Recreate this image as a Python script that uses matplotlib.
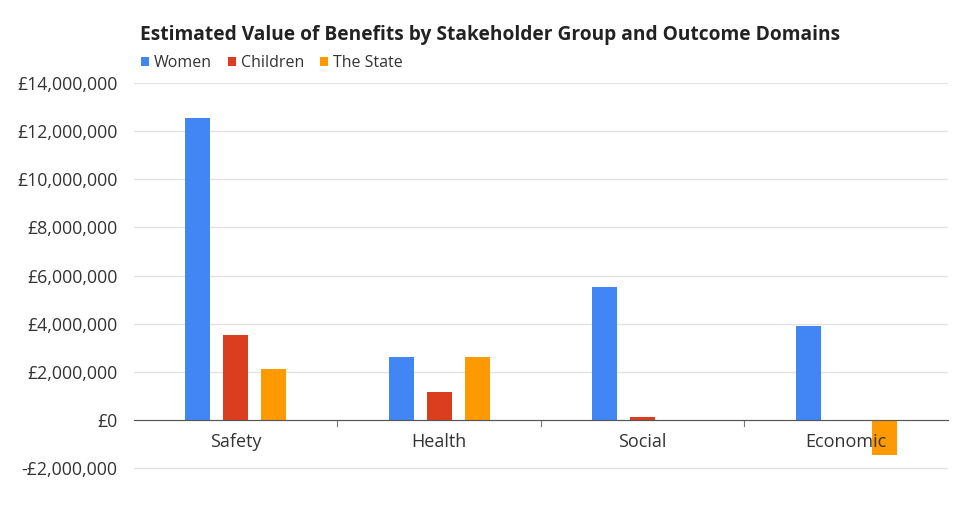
import matplotlib
matplotlib.use("Agg")
import matplotlib.pyplot as plt
import numpy as np
from matplotlib.ticker import FuncFormatter

categories = ["Safety", "Health", "Social", "Economic"]
series_names = ["Women", "Children", "The State"]
women = [12550000, 2620000, 5530000, 3900000]
children = [3530000, 1160000, 120000, 0]
the_state = [2120000, 2620000, 0, -1450000]
colors = ["#4285f4", "#db3e1e", "#ff9900"]

plt.rcParams['font.family'] = ['Open Sans', 'DejaVu Sans']

fig = plt.figure(figsize=(9.57, 5.16), dpi=100)
ax = fig.add_axes([0.140, 0.0647, 0.8506, 0.7744])

x = np.arange(len(categories))
offs = [-0.186, 0.0, 0.186]
w = 0.123
for vals, name, c, o in zip([women, children, the_state], series_names, colors, offs):
    ax.bar(x + o, vals, width=w, color=c, label=name, zorder=2)

ax.set_xlim(-0.5, 3.5)
ax.set_ylim(-2.6e6, 14e6)
ax.set_yticks(np.arange(-2e6, 14.1e6, 2e6))

def fmt(v, pos):
    v = int(round(v))
    if v < 0:
        return "-£{:,}".format(-v)
    return "£{:,}".format(v)
ax.yaxis.set_major_formatter(FuncFormatter(fmt))
ax.tick_params(axis='y', length=0, pad=12, labelsize=12.8, labelcolor='#333333')
ax.grid(axis='y', color='#e3e3e3', linewidth=1, zorder=0)
ax.set_axisbelow(True)

for s in ['top', 'right', 'left']:
    ax.spines[s].set_visible(False)
ax.spines['bottom'].set_position(('data', 0))
ax.spines['bottom'].set_color('#555555')
ax.spines['bottom'].set_zorder(3)

ax.set_xticks(x)
ax.set_xticklabels([])
ax.tick_params(axis='x', length=0)
for i, cat in enumerate(categories):
    ax.annotate(cat, xy=(i, 0), xytext=(0, -16), textcoords='offset points',
                ha='center', va='center', fontsize=13, color='#333333', zorder=5)
for xm in [0.5, 1.5, 2.5]:
    ax.plot([xm, xm], [0, -0.25e6], color='#777777', linewidth=0.8, zorder=1, clip_on=False)

fig.text(0.146, 0.933, "Estimated Value of Benefits by Stakeholder Group and Outcome Domains",
         fontsize=13.8, fontweight='bold', color='#222222', va='center')
leg = fig.legend(loc='center left', bbox_to_anchor=(0.141, 0.878), ncol=3, frameon=False,
                 fontsize=11.5, handlelength=0.5, handleheight=0.5, handletextpad=0.3,
                 columnspacing=1.0, borderaxespad=0)
for t in leg.get_texts():
    t.set_color('#333333')

fig.savefig("out.png", dpi=100, facecolor='white')
